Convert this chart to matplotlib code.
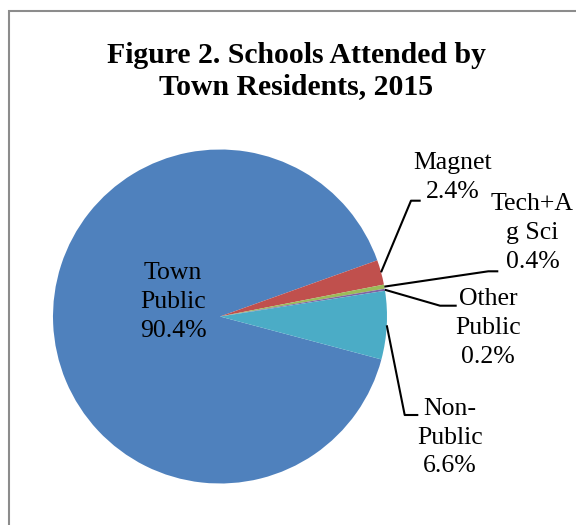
import numpy as np
import matplotlib
matplotlib.use('Agg')
from matplotlib import pyplot as plt
from matplotlib.patches import Rectangle

# school categories and their shares (percent)
categories = ['Town\nPublic', 'Magnet', 'Tech+A\ng Sci', 'Other\nPublic', 'Non-\nPublic']
shares = [90.4, 2.4, 0.4, 0.2, 6.6]
colors = ['#4F81BD', '#C0504D', '#9BBB59', '#8064A2', '#4BACC6']

W, H = 576, 525
plt.rcParams['font.family'] = ['Liberation Serif', 'DejaVu Serif']

fig = plt.figure(figsize=(W / 100.0, H / 100.0), dpi=100)
ax = fig.add_axes([0, 0, 1, 1])

# chart frame (only left/top edges fall inside the image)
ax.add_patch(Rectangle((9, -10), W + 20, H - 11 + 10, fill=False,
                       edgecolor='#8c8c8c', linewidth=1.5))

cx, cy, r = 220, H - 316.5, 167
start = 345.1
wedges, _ = ax.pie(shares, colors=colors, startangle=start, counterclock=False,
                   center=(cx, cy), radius=r, frame=True,
                   wedgeprops=dict(linewidth=0))
ax.set_xlim(0, W)
ax.set_ylim(0, H)
ax.axis('off')

fig.text(296 / W, 1 - 71 / H, 'Figure 2. Schools Attended by\nTown Residents, 2015',
         ha='center', va='center', fontsize=21.4, fontweight='bold', linespacing=1.2)

def label_text(i):
    return '%s\n%.1f%%' % (categories[i], shares[i])

# inside label for the big slice
ax.text(173, H - 302, label_text(0), ha='center', va='center', fontsize=18.5,
        linespacing=1.4)

# outside labels: (label centre, elbow point, end of horizontal leader)
outside = {
    1: ((452.7, 177.5), (411, 200.7), (420.7, 200.7)),
    2: ((532.5, 233.0), (488.3, 271.3), (498.3, 271.3)),
    3: ((488.3, 328.0), (440, 305.7), (456.7, 305.7)),
    4: ((450.0, 437.5), (404.7, 415), (418.3, 415)),
}
for i, (lab, elbow, end) in outside.items():
    w = wedges[i]
    mid = np.deg2rad((w.theta1 + w.theta2) / 2.0)
    px, py = cx + r * np.cos(mid), cy + r * np.sin(mid)
    ax.plot([px, elbow[0], end[0]], [py, H - elbow[1], H - end[1]],
            color='black', linewidth=1.5, solid_capstyle='butt')
    ax.text(lab[0], H - lab[1], label_text(i), ha='center', va='center',
            fontsize=18.5, linespacing=1.4)

fig.savefig('out.png', dpi=100, facecolor='white')
